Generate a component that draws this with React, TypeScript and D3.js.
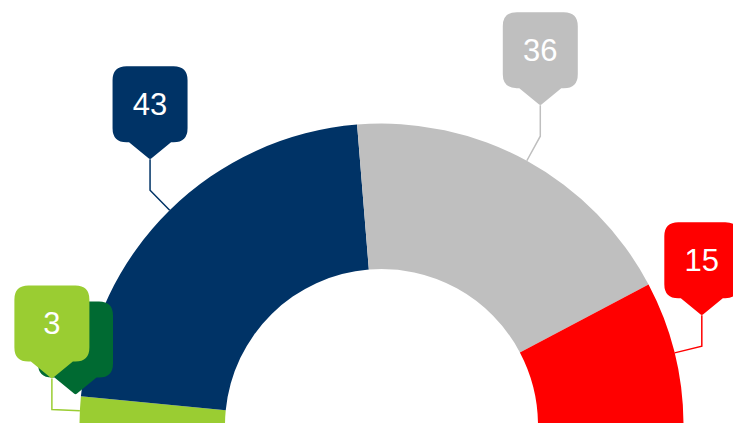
import React from "react";
import * as d3 from "d3";

// Data (seat distribution, left to right)
const partyKeys = ["darkgreen", "lightgreen", "navy", "gray", "red"];
const seatValues = [0, 3, 43, 36, 15];
const partyColors = ["#006a32", "#9acd32", "#003366", "#bfbfbf", "#ff0000"];

const W = 733;
const H = 423;
const cx = 381.5;
const cy = 425.5;
const rOuter = 302;
const rInner = 156.5;
const connectorOut = 28;
const connectorUp = 31;
const boxW = 75;
const boxH = 76;
const pointerH = 17;
const pointerHalf = 21;
const cornerR = 14;
const zeroLabelShift = 24;

type Datum = { key: string; value: number; color: string };

const data: Datum[] = partyKeys.map((k, i) => ({
  key: k,
  value: seatValues[i],
  color: partyColors[i],
}));

function calloutPath(tx: number, ty: number) {
  const bottom = ty - pointerH;
  const top = bottom - boxH;
  const left = tx - boxW / 2;
  const right = tx + boxW / 2;
  const r = cornerR;
  return [
    `M${left + r},${top}`,
    `H${right - r}`,
    `Q${right},${top} ${right},${top + r}`,
    `V${bottom - r}`,
    `Q${right},${bottom} ${right - r},${bottom}`,
    `H${tx + pointerHalf}`,
    `L${tx + 1.5},${ty - 1}`,
    `Q${tx},${ty + 0.5} ${tx - 1.5},${ty - 1}`,
    `L${tx - pointerHalf},${bottom}`,
    `H${left + r}`,
    `Q${left},${bottom} ${left},${bottom - r}`,
    `V${top + r}`,
    `Q${left},${top} ${left + r},${top}`,
    "Z",
  ].join(" ");
}

export default function App() {
  const pie = d3
    .pie<Datum>()
    .sort(null)
    .value((d) => d.value)
    .startAngle(-Math.PI / 2)
    .endAngle(Math.PI / 2);
  const arcs = pie(data);
  const arc = d3
    .arc<d3.PieArcDatum<Datum>>()
    .innerRadius(rInner)
    .outerRadius(rOuter);

  const polar = (a: number, r: number) => [cx + r * Math.sin(a), cy - r * Math.cos(a)];

  const labels = arcs.map((a) => {
    const mid = (a.startAngle + a.endAngle) / 2;
    const [ax, ay] = polar(mid, rOuter);
    const [bx, by] = polar(mid, rOuter + connectorOut);
    let tx = bx;
    const ty = by - connectorUp;
    if (a.data.value === 0) tx += zeroLabelShift;
    return { a, ax, ay, bx, by, tx, ty };
  });

  return (
    <svg
      width={W}
      height={H}
      style={{ position: "absolute", left: 0, top: 0, overflow: "hidden", background: "#fff" }}
      fontFamily="'Liberation Sans', Arial, Helvetica, sans-serif"
    >
      <g transform={`translate(${cx},${cy})`}>
        {arcs.map((a) => (
          <path key={a.data.key} d={arc(a) || ""} fill={a.data.color} />
        ))}
      </g>
      {labels.map((l) =>
        l.a.data.value === 0 ? null : (
          <polyline
            key={"c" + l.a.data.key}
            points={`${l.ax},${l.ay} ${l.bx},${l.by} ${l.tx},${l.ty}`}
            fill="none"
            stroke={l.a.data.color}
            strokeWidth={1.5}
          />
        )
      )}
      {labels.map((l) => (
        <g key={"l" + l.a.data.key}>
          <path d={calloutPath(l.tx, l.ty)} fill={l.a.data.color} />
          <text
            x={l.tx}
            y={l.ty - pointerH - boxH / 2}
            textAnchor="middle"
            dominantBaseline="central"
            fontSize={31}
            fill="#ffffff"
          >
            {l.a.data.value}
          </text>
        </g>
      ))}
    </svg>
  );
}
